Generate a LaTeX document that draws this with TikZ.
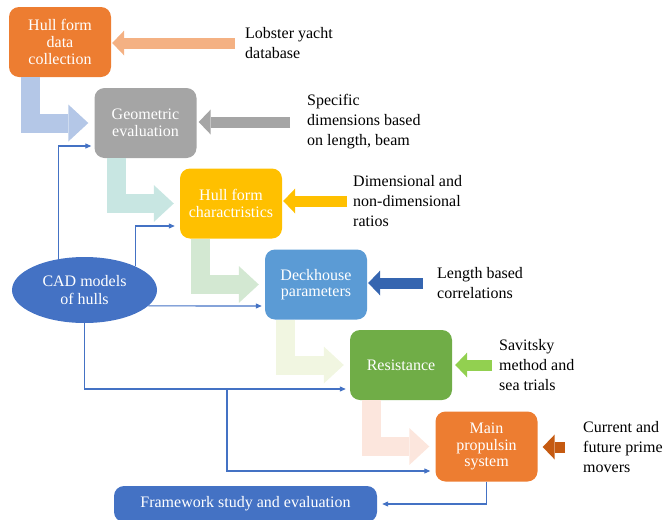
\documentclass[tikz,border=0pt]{standalone}
\usepackage{fontspec}
\setmainfont{Liberation Serif}
\usepackage{tikz}
\usetikzlibrary{arrows.meta,shapes.geometric,calc}
\usepackage{xcolor}
\definecolor{orangecol}{HTML}{ED7D31}
\definecolor{graycol}{HTML}{A5A5A5}
\definecolor{goldcol}{HTML}{FFC000}
\definecolor{skycol}{HTML}{5B9BD5}
\definecolor{greencol}{HTML}{70AD47}
\definecolor{navycol}{HTML}{4472C4}
\definecolor{lobcol}{HTML}{F4B183}
\definecolor{deckcol}{HTML}{3565B0}
\definecolor{limecol}{HTML}{92D050}
\definecolor{rustcol}{HTML}{C55A11}
\definecolor{bentA}{HTML}{B4C7E7}
\definecolor{bentB}{HTML}{C8E6E2}
\definecolor{bentC}{HTML}{D3E8D2}
\definecolor{bentD}{HTML}{F1F6E1}
\definecolor{bentE}{HTML}{FCE6DD}
\tikzset{
  % process box
  pbox/.style={rectangle, rounded corners=10pt, fill=#1, text=white, minimum width=102pt, minimum height=70pt,
               align=center, inner sep=2pt, font=\fontsize{16}{16.7}\selectfont},
  pbox/.default={navycol},
  % ellipse source
  srcnode/.style={ellipse, fill=navycol, text=white, minimum width=145pt, minimum height=66pt, inner sep=0pt,
                  align=center, font=\fontsize{16}{18}\selectfont},
  % side note text
  note/.style={anchor=west, inner sep=0pt, align=left, font=\fontsize{16}{20}\selectfont},
  % block arrow from a note into a box
  sidearrow/.style={draw=#1, line width=11pt, -{Triangle[length=12pt,width=25pt,line width=0pt]}},
  % bent block arrow between boxes
  bentarrow/.style={draw=#1, line width=19pt, -{Triangle[length=20pt,width=37pt,line width=0pt]}, shorten >=6pt},
  % thin connector
  conn/.style={draw=navycol, line width=1.1pt, -{Triangle[length=6pt,width=5pt]}},
}

\begin{document}
\begin{tikzpicture}[x=1pt,y=-1pt]
  \useasboundingbox (0,0) rectangle (665,520);
  \clip (0,0) rectangle (665,520);

  % Boxes
  \node[pbox=orangecol] (hfdc) at (60,42) {Hull form\\data\\collection};
  \node[pbox=graycol] (geo) at (145.5,123) {Geometric\\evaluation};
  \node[pbox=goldcol] (hfc) at (231,203.5) {Hull form\\charactristics};
  \node[pbox=skycol] (deck) at (316,284.5) {Deckhouse\\parameters};
  \node[pbox=greencol] (res) at (401,365) {Resistance};
  \node[pbox=orangecol] (mps) at (486.5,446.5) {Main\\propulsin\\system};
  \node[pbox=navycol, minimum width=263pt, minimum height=36pt] (fw) at (245.5,504) {Framework study and evaluation};
  \node[srcnode] (cad) at (84.5,290) {CAD models\\of hulls};

  % Notes
  \node[note] (lob) at (245,43) {Lobster yacht\\database};
  \node[note] (spec) at (307,122) {Specific\\dimensions based\\on length, beam};
  \node[note] (dim) at (353,201) {Dimensional and\\non-dimensional\\ratios};
  \node[note] (len) at (437,283) {Length based\\correlations};
  \node[note] (sav) at (499,365) {Savitsky\\method and\\sea trials};
  \node[note] (cur) at (583,447) {Current and\\future prime\\movers};

  % Side arrows
  \draw[sidearrow=lobcol, shorten <=10pt, shorten >=1pt] (lob.west) -- (lob.west -| hfdc.east);
  \draw[sidearrow=graycol, shorten <=17pt, shorten >=2pt] (spec.west) -- (spec.west -| geo.east);
  \draw[sidearrow=goldcol, shorten <=6pt, shorten >=1pt] (dim.west) -- (dim.west -| hfc.east);
  \draw[sidearrow=deckcol, shorten <=14pt, shorten >=1pt] (len.west) -- (len.west -| deck.east);
  \draw[sidearrow=limecol, shorten <=7pt, shorten >=3pt] (sav.west) -- (sav.west -| res.east);
  \draw[sidearrow=rustcol, shorten <=18pt, shorten >=5pt] (cur.west) -- (cur.west -| mps.east);

  % Bent arrows
  \draw[bentarrow=bentA] ($(hfdc.south west)+(22,0)$) |- (geo.west);
  \draw[bentarrow=bentB] ($(geo.south west)+(22,0)$) |- (hfc.west);
  \draw[bentarrow=bentC] ($(hfc.south west)+(21,0)$) |- (deck.west);
  \draw[bentarrow=bentD] ($(deck.south west)+(21,0)$) |- (res.west);
  \draw[bentarrow=bentE] ($(res.south west)+(22,0)$) |- (mps.west);

  % Connectors from CAD models
  \coordinate (split) at (227,389);
  \draw[conn, shorten >=3pt] (cad.130) |- ($(geo.west)+(0,23)$);
  \draw[conn, shorten >=5pt] (cad.25) |- ($(hfc.west)+(0,22.5)$);
  \draw[conn, shorten >=3pt] (cad.-14) -- ($(deck.west)+(0,21.5)$);
  \draw[conn, shorten >=4pt] (cad.south) |- ($(res.west)+(0,24)$);
  \draw[conn, shorten >=5pt] (split) |- ($(mps.west)+(0,24.5)$);
  \draw[conn, shorten >=5pt] (mps.south) |- (fw.east);
\end{tikzpicture}
\end{document}
